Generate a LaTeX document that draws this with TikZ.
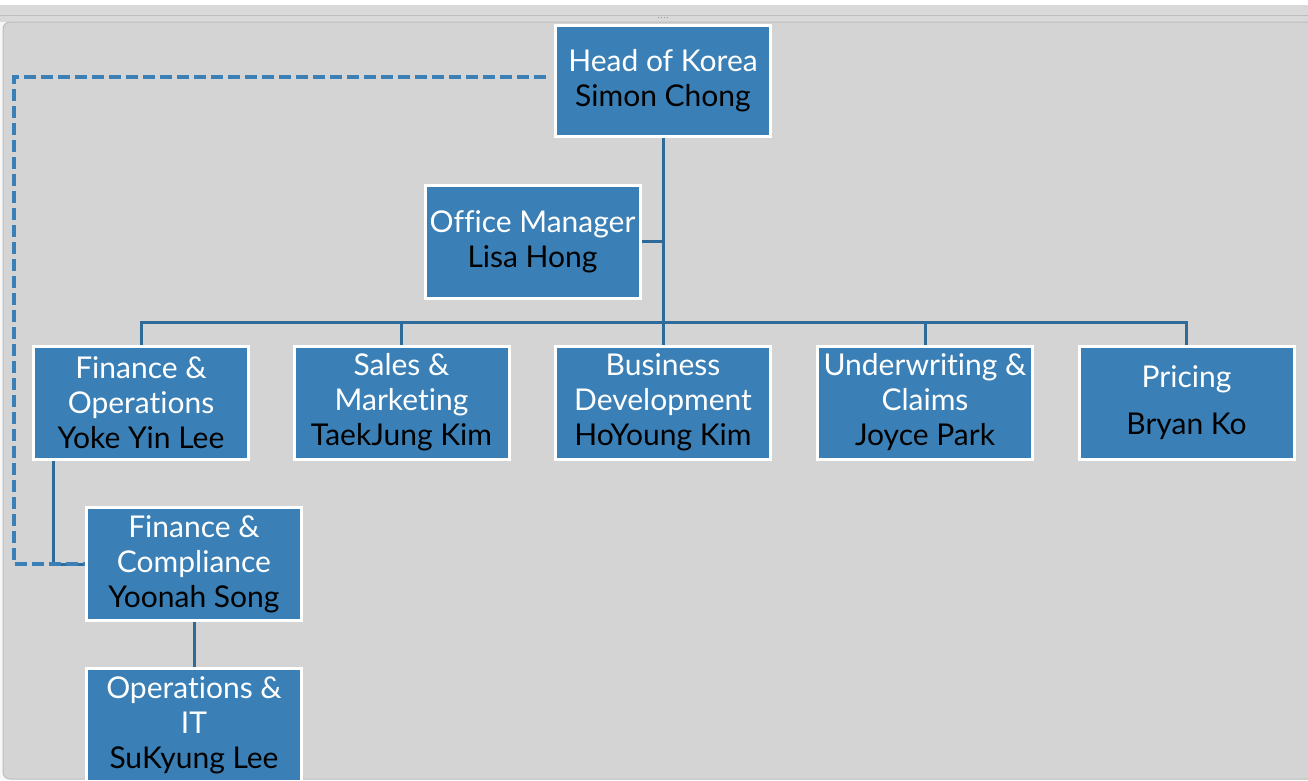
\documentclass[tikz,border=0pt]{standalone}
\usepackage{fontspec}
\setmainfont{Lato}[Ligatures={NoCommon,NoRare}]
\definecolor{boxblue}{HTML}{3A80B6}
\definecolor{lineblue}{HTML}{2F6B98}
\definecolor{dashblue}{HTML}{3A80B6}
\definecolor{panelgray}{HTML}{D4D4D4}
\definecolor{bandgray}{HTML}{D9D9D9}
\definecolor{edgegray}{HTML}{BDBDBD}
\begin{document}
\begin{tikzpicture}[x=1pt,y=-1pt,
  orgbox/.style={fill=boxblue,draw=white,line width=3pt,minimum width=215pt,minimum height=113pt,
    inner sep=0pt,align=center,text=black,font=\fontsize{30}{35}\selectfont},
  conn/.style={draw=lineblue,line width=3pt},
  dotted link/.style={draw=dashblue,line width=4pt,dash pattern=on 12pt off 5pt}]
\useasboundingbox (0,0) rectangle (1308,780);
\clip (0,0) rectangle (1308,780);
% background
\fill[white!97!black] (0,0) rectangle (1308,780);
\fill[white] (0,0) rectangle (1308,5);
\fill[bandgray] (0,5) rectangle (1308,22);
\draw[edgegray,line width=1pt] (0,15) -- (1308,15);
\fill[panelgray,draw=edgegray,line width=1pt,rounded corners=7pt] (1320,779) -- (3,779) -- (3,22) -- (1320,22);
\foreach \dx in {-4.5,-1.5,1.5,4.5} \fill[edgegray!80!black] (663+\dx,17.5) circle (0.7pt);
% nodes
\node[orgbox,minimum height=111pt] (head) at (663,81) {\textcolor{white}{Head of Korea}\\Simon Chong};
\node[orgbox] (office) at (532.5,241.5) {\textcolor{white}{Office Manager}\\Lisa Hong};
\node[orgbox] (fo) at (141,402.5) {\textcolor{white}{Finance \&}\\\textcolor{white}{Operations}\\Yoke Yin Lee};
\node[orgbox] (sm) at (401.5,402.5) {\textcolor{white}{Sales \&}\\\textcolor{white}{Marketing}\\TaekJung Kim};
\node[orgbox] (bd) at (663,402.5) {\textcolor{white}{Business}\\\textcolor{white}{Development}\\HoYoung Kim};
\node[orgbox] (uc) at (925,402.5) {\textcolor{white}{Underwriting \&}\\\textcolor{white}{Claims}\\Joyce Park};
\node[orgbox] (pr) at (1186.5,402.5) {\textcolor{white}{Pricing}\\[12pt]Bryan Ko};
\node[orgbox] (fc) at (194,564) {\textcolor{white}{Finance \&}\\\textcolor{white}{Compliance}\\Yoonah Song};
\node[orgbox] (oi) at (194,725) {\textcolor{white}{Operations \&}\\\textcolor{white}{IT}\\SuKyung Lee};
% connectors
\coordinate (bus) at (663,322);
\draw[conn] (head.south) -- (bd.north);
\draw[conn] (office.east) -- (office.east -| head.south);
\draw[conn] (fo.north) |- (bus) -| (pr.north);
\draw[conn] (sm.north) -- (sm.north |- bus);
\draw[conn] (uc.north) -- (uc.north |- bus);
\draw[conn] ([xshift=-88pt]fo.south) |- (fc.west);
\draw[conn] (fc.south) -- (oi.north);
\coordinate (dstart) at (546,77);
\coordinate (dcorner) at (14,77);
\draw[dotted link] (dstart) -- (dcorner) |- (fc.west);
\end{tikzpicture}
\end{document}
